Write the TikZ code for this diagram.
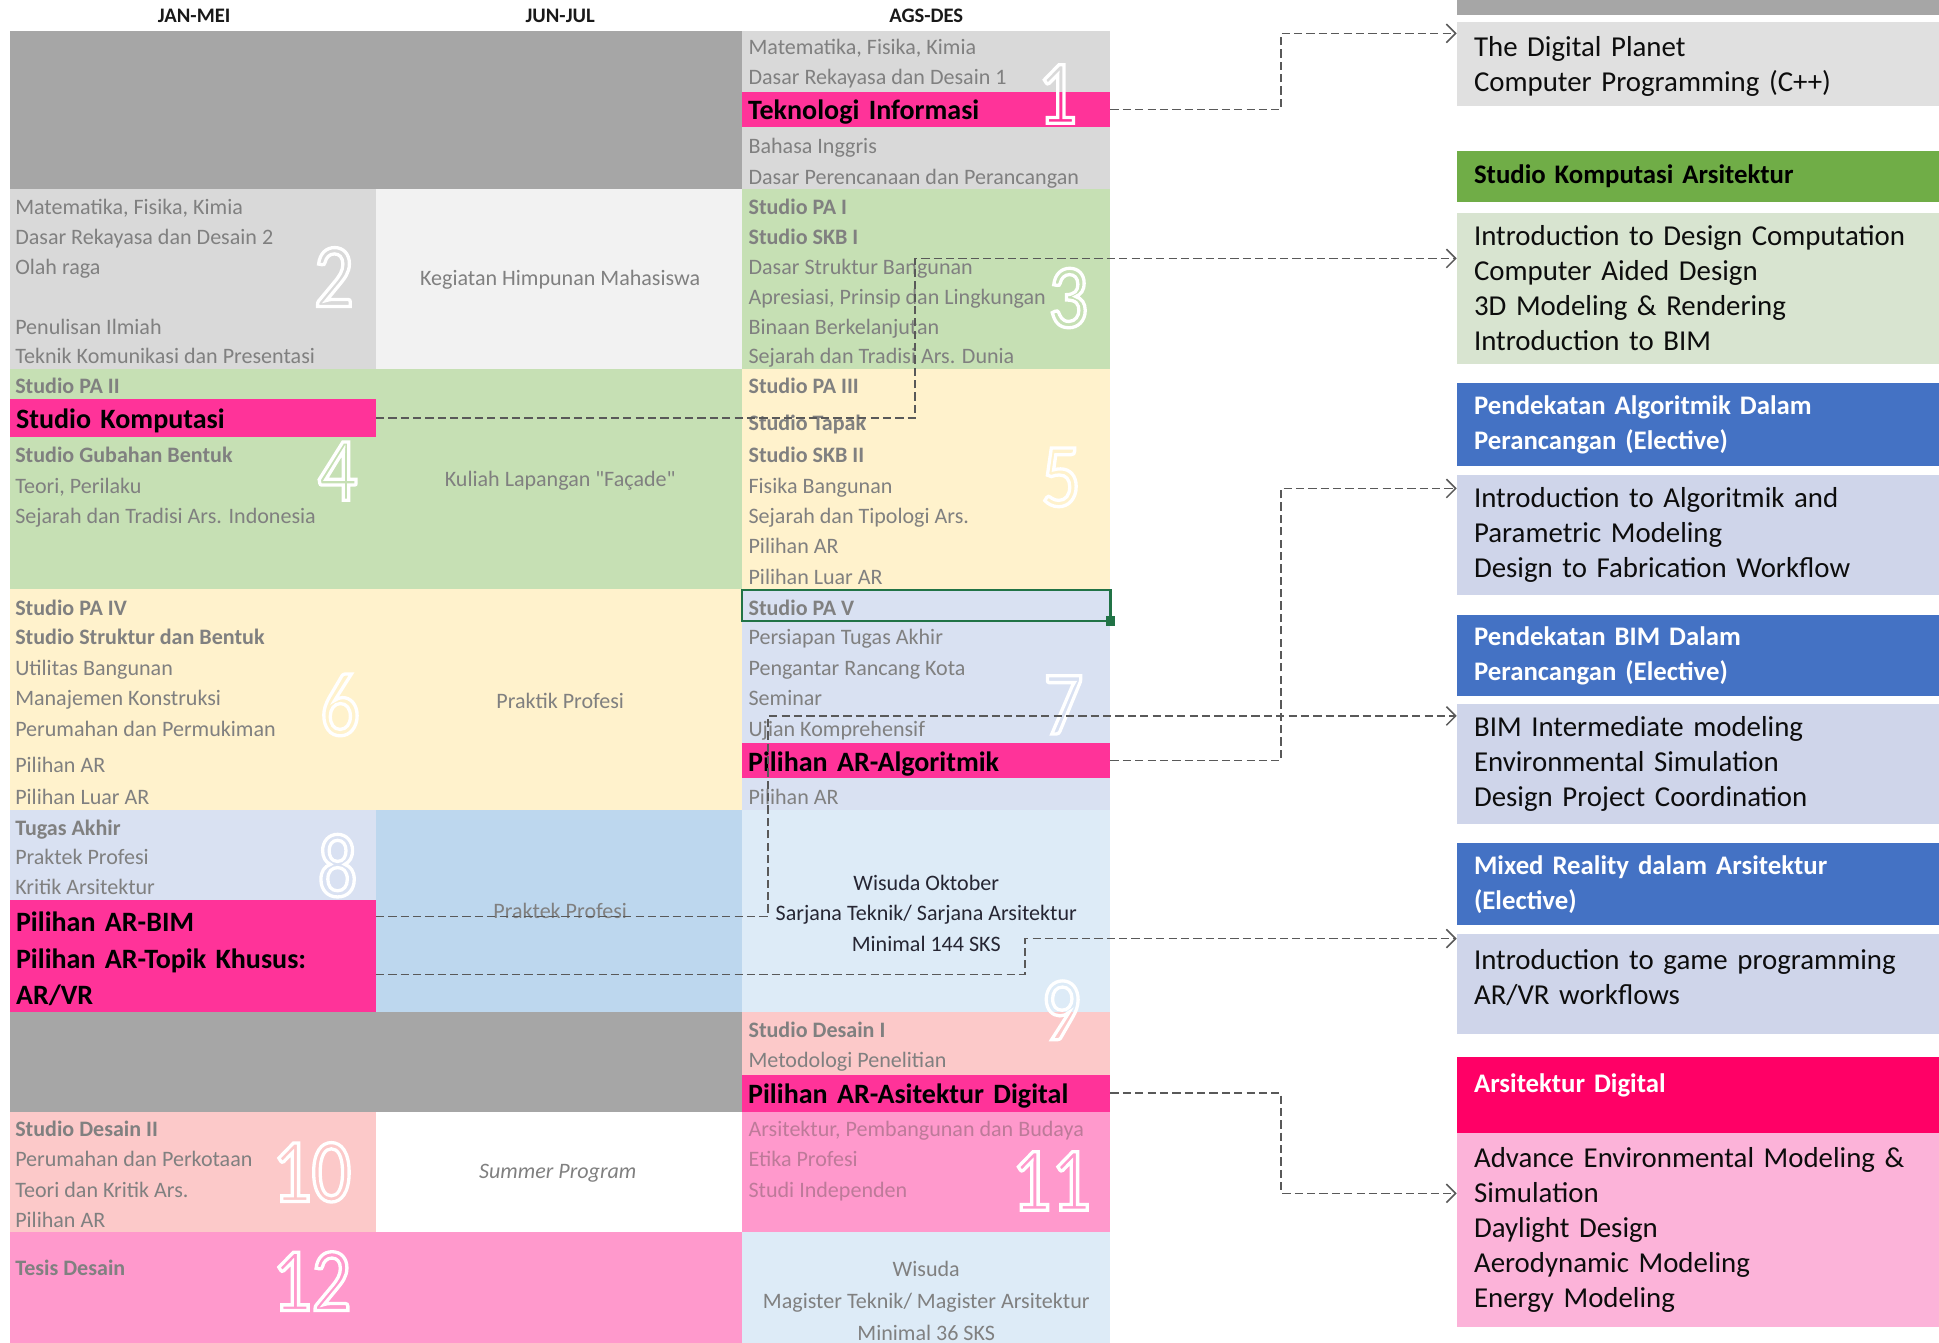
\documentclass[tikz,border=0pt]{standalone}
\usepackage{fontspec}
\setmainfont{Carlito}
\newfontfamily\digitfont[FakeStretch=0.86]{Carlito}
\usepackage{tikz}
\usetikzlibrary{
  arrows.meta,
  positioning,
  calc
}
\usepackage{xcolor}
\definecolor{blockGray}{rgb}{0.65,0.65,0.65}
\definecolor{paleGray}{rgb}{0.85,0.85,0.85}
\definecolor{ghostGray}{rgb}{0.95,0.95,0.95}
\definecolor{sageGreen}{rgb}{0.776,0.878,0.706}
\definecolor{creamYellow}{rgb}{1,0.949,0.8}
\definecolor{paleLavender}{rgb}{0.851,0.882,0.949}
\definecolor{skyBlue}{rgb}{0.741,0.843,0.933}
\definecolor{iceBlue}{rgb}{0.867,0.922,0.969}
\definecolor{salmonPink}{rgb}{0.988,0.788,0.788}
\definecolor{rosePink}{rgb}{1,0.6,0.8}
\definecolor{hotPink}{rgb}{1,0.2,0.6}
\definecolor{textGray}{rgb}{0.5,0.5,0.5}
\definecolor{fadedRose}{rgb}{0.74,0.48,0.6}
\definecolor{headInk}{rgb}{0.1,0.1,0.1}
\definecolor{wisudaInk}{rgb}{0.15,0.15,0.2}
\definecolor{leafGreen}{rgb}{0.439,0.678,0.278}
\definecolor{mintGreen}{rgb}{0.847,0.894,0.816}
\definecolor{royalBlue}{rgb}{0.267,0.447,0.769}
\definecolor{mistLavender}{rgb}{0.812,0.835,0.918}
\definecolor{cherryRed}{rgb}{1,0,0.4}
\definecolor{candyPink}{rgb}{0.988,0.702,0.851}
\definecolor{cardGray}{rgb}{0.878,0.878,0.878}
\definecolor{cardInk}{rgb}{0.05,0.05,0.05}
\definecolor{linkGray}{rgb}{0.35,0.35,0.35}
\definecolor{excelGreen}{rgb}{0.129,0.451,0.275}
\newcommand{\hollow}[1]{\special{pdf:literal direct 1 Tr 1.6 w}#1\special{pdf:literal direct 0 Tr}}
\tikzset{
  head/.style={
    inner sep=0pt,
    text=headInk,
    font=\fontsize{10}{12}\selectfont\bfseries
  },
  item/.style={
    anchor=west,
    inner sep=0pt,
    yshift=-1.2pt,
    text=textGray,
    text height=7.6pt,
    text depth=2.4pt,
    font=\fontsize{10.7}{12}\selectfont
  },
  stud/.style={
    item,
    font=\fontsize{10.7}{12}\selectfont\bfseries
  },
  mid/.style={
    inner sep=0pt,
    text=textGray,
    align=center,
    font=\fontsize{10.7}{14.7}\selectfont
  },
  bar/.style={
    anchor=north west,
    fill=hotPink,
    outer sep=0pt,
    inner xsep=3pt,
    inner ysep=0pt,
    text height=12.5pt,
    text=black,
    align=left,
    font=\fontsize{13.6}{17.7}\selectfont\bfseries
  },
  digit/.style={
    inner sep=0pt,
    text=white,
    font=\digitfont\fontsize{44}{44}\selectfont
  },
  card/.style={
    anchor=north west,
    outer sep=0pt,
    inner xsep=8.4pt,
    inner ysep=0pt,
    text width=217.2pt,
    align=left,
    text=cardInk,
    font=\fontsize{14}{17}\selectfont
  },
  cardhead/.style={
    card,
    text=white,
    font=\fontsize{13}{17}\selectfont\bfseries
  },
  link/.style={
    draw=linkGray,
    line width=0.75pt,
    dash pattern=on 4pt off 2pt,
    -{Straight Barb[length=4.5pt,width=9pt]}
  }
}

\begin{document}
\begin{tikzpicture}[x=0.6pt, y=-0.6pt, node distance=0pt]
  \useasboundingbox (0,0) rectangle (1568,1086);

  % table cells
  \foreach \xa/\ya/\xb/\yb/\c in {
    8/25/600/153/blockGray, 600/25/898/153/paleGray,
    8/153/304/298/paleGray, 304/153/600/298/ghostGray, 600/153/898/298/sageGreen,
    8/298/600/476/sageGreen, 600/298/898/476/creamYellow,
    8/476/600/655/creamYellow, 600/476/898/655/paleLavender,
    8/655/304/728/paleLavender, 304/655/600/818/skyBlue, 600/655/898/818/iceBlue,
    8/818/600/899/blockGray, 600/818/898/899/salmonPink,
    8/899/304/996/salmonPink, 600/899/898/996/rosePink,
    8/996/600/1086/rosePink, 600/996/898/1086/iceBlue}
    \fill[\c] (\xa,\ya) rectangle (\xb,\yb);

  \node[head] (jan) at (157,13) {JAN-MEI};
  \node[head] (jun) at (453,13) {JUN-JUL};
  \node[head] (ags) at (749,13) {AGS-DES};

  % JAN-MEI column
  \foreach \y/\t in {167/{Matematika, Fisika, Kimia}, 191/Dasar Rekayasa dan Desain 2,
      216/Olah raga, 264/Penulisan Ilmiah, 288/Teknik Komunikasi dan Presentasi,
      393/{Teori, Perilaku}, 417/Sejarah dan Tradisi Ars. Indonesia,
      540/Utilitas Bangunan, 564/Manajemen Konstruksi, 589/Perumahan dan Permukiman,
      618/Pilihan AR, 644/Pilihan Luar AR, 693/Praktek Profesi, 717/Kritik Arsitektur,
      937/Perumahan dan Perkotaan, 962/Teori dan Kritik Ars., 986/Pilihan AR}
    \node[item] (l\y) at (12,\y) {\t};
  \foreach \y/\t in {312/Studio PA II, 368/Studio Gubahan Bentuk, 491/Studio PA IV,
      515/Studio Struktur dan Bentuk, 669/Tugas Akhir, 913/Studio Desain II,
      1025/Tesis Desain}
    \node[stud] (l\y) at (12,\y) {\t};

  % AGS-DES column
  \foreach \y/\t in {38/{Matematika, Fisika, Kimia}, 62/Dasar Rekayasa dan Desain 1,
      118/Bahasa Inggris, 143/Dasar Perencanaan dan Perancangan,
      216/Dasar Struktur Bangunan, 240/{Apresiasi, Prinsip dan Lingkungan},
      264/Binaan Berkelanjutan, 288/Sejarah dan Tradisi Ars. Dunia,
      393/Fisika Bangunan, 417/Sejarah dan Tipologi Ars., 441/Pilihan AR,
      466/Pilihan Luar AR, 515/Persiapan Tugas Akhir, 540/Pengantar Rancang Kota,
      564/Seminar, 589/Ujian Komprehensif, 644/Pilihan AR, 857/Metodologi Penelitian}
    \node[item] (r\y) at (605,\y) {\t};
  \foreach \y/\t in {167/Studio PA I, 191/Studio SKB I, 312/Studio PA III,
      342/Studio Tapak, 368/Studio SKB II, 491/Studio PA V, 833/Studio Desain I}
    \node[stud] (r\y) at (605,\y) {\t};
  \foreach \y/\t in {913/{Arsitektur, Pembangunan dan Budaya}, 937/Etika Profesi,
      962/Studi Independen}
    \node[item, text=fadedRose] (r\y) at (605,\y) {\t};

  % JUN-JUL column and graduation
  \node[mid] (himpunan) at (453,226) {Kegiatan Himpunan Mahasiswa};
  \node[mid] (lapangan) at (453,389) {Kuliah Lapangan {\addfontfeatures{Ligatures=TeXOff}"Façade"}};
  \node[mid] (praktik) at (453,567) {Praktik Profesi};
  \node[mid] (praktek) at (453,737) {Praktek Profesi};
  \node[mid, font=\fontsize{10.7}{14.7}\selectfont\itshape] (summer) at (451,949) {Summer Program};
  \node[mid, text=wisudaInk] (sarjana) at (749,738.5)
    {Wisuda Oktober\\Sarjana Teknik/ Sarjana Arsitektur\\Minimal 144 SKS};
  \node[mid, font=\fontsize{10.7}{15.6}\selectfont] (magister) at (749,1052)
    {Wisuda\\Magister Teknik/ Magister Arsitektur\\Minimal 36 SKS};

  % computational courses
  \node[bar, minimum height=17.4pt, text width=172.8pt] (ti) at (600,74) {Teknologi Informasi};
  \node[bar, minimum height=18pt, text width=171.6pt] (sk) at (8,323) {Studio Komputasi};
  \node[bar, minimum height=16.8pt, text width=172.8pt] (ala) at (600,601) {Pilihan AR-Algoritmik};
  \node[bar, minimum height=18pt, text width=172.8pt] (ard) at (600,869) {Pilihan AR-Asitektur Digital};
  \node[bar, minimum height=54pt, text width=171.6pt] (arvr) at (8,728)
    {Pilihan AR-BIM\\Pilihan AR-Topik Khusus:\\AR/VR};

  % semester numbers
  \foreach \n/\x/\y in {1/855/76, 2/270/224, 3/864/241, 4/273/381, 5/858/386,
      6/275/570, 7/860/570, 8/273/700, 9/858/817, 10/252/948, 11/850/955, 12/252/1036}
    \node[digit] (s\n) at (\x,\y) {\hollow{\n}};

  % selected cell
  \draw[excelGreen, line width=1pt] (600,477) rectangle (898,502);
  \fill[excelGreen] (894,498) rectangle (902,506);

  % course cards
  \fill[blockGray] (1178,0) rectangle (1568,12);
  \node[card, fill=cardGray, minimum height=40.8pt, text height=12.2pt] (dp) at (1178,18)
    {The Digital Planet\\Computer Programming (C++)};
  \node[cardhead, fill=leafGreen, text=black, minimum height=24.6pt] (skaHead) at (1178,122)
    {Studio Komputasi Arsitektur};
  \node[card, fill=mintGreen, minimum height=73.2pt, below=5.4pt of skaHead] (ska)
    {Introduction to Design Computation\\Computer Aided Design\\3D Modeling \& Rendering\\Introduction to BIM};
  \node[cardhead, fill=royalBlue, minimum height=40.2pt, below=9.6pt of ska] (algHead)
    {Pendekatan Algoritmik Dalam\\Perancangan (Elective)};
  \node[card, fill=mistLavender, minimum height=58.2pt, below=4.2pt of algHead] (alg)
    {Introduction to Algoritmik and\\Parametric Modeling\\Design to Fabrication Workflow};
  \node[cardhead, fill=royalBlue, minimum height=39.6pt, below=9.6pt of alg] (bimHead)
    {Pendekatan BIM Dalam\\Perancangan (Elective)};
  \node[card, fill=mistLavender, minimum height=58.2pt, below=3.6pt of bimHead] (bim)
    {BIM Intermediate modeling\\Environmental Simulation\\Design Project Coordination};
  \node[cardhead, fill=royalBlue, minimum height=39.6pt, below=9.6pt of bim] (mrHead)
    {Mixed Reality dalam Arsitektur\\(Elective)};
  \node[card, fill=mistLavender, minimum height=48.6pt, text depth=24pt, below=4.2pt of mrHead] (mr)
    {Introduction to game programming\\AR/VR workflows};
  \node[cardhead, fill=cherryRed, minimum height=36.6pt, text depth=12pt, below=11.4pt of mr] (adgHead)
    {Arsitektur Digital};
  \node[card, fill=candyPink, minimum height=94.2pt, below=0pt of adgHead] (adg)
    {Advance Environmental Modeling \&\\Simulation\\Daylight Design\\Aerodynamic Modeling\\Energy Modeling};

  % links
  \coordinate (busR) at (1036,0);
  \coordinate (busK) at (740,0);
  \coordinate (busB) at (621,0);
  \coordinate (busV) at (829,0);
  \coordinate (dpIn) at ($(dp.north west)+(0,9)$);
  \coordinate (skaIn) at ($(ska.north west)+(0,37)$);
  \coordinate (algIn) at ($(alg.north west)+(0,11)$);
  \coordinate (bimIn) at ($(bim.north west)+(0,10)$);
  \coordinate (mrIn) at ($(mr.north west)+(0,4)$);
  \coordinate (adgIn) at ($(adg.north west)+(0,49)$);
  \coordinate (bimOut) at ($(arvr.north east)+(0,13)$);
  \coordinate (vrOut) at ($(arvr.north east)+(0,60)$);

  \draw[link] (ti.east) -| (busR |- dpIn) -- (dpIn);
  \draw[link] (sk.east) -| (busK |- skaIn) -- (skaIn);
  \draw[link] (ala.east) -| (busR |- algIn) -- (algIn);
  \draw[link] (bimOut) -| (busB |- bimIn) -- (bimIn);
  \draw[link] (vrOut) -| (busV |- mrIn) -- (mrIn);
  \draw[link] (ard.east) -| (busR |- adgIn) -- (adgIn);
\end{tikzpicture}
\end{document}
